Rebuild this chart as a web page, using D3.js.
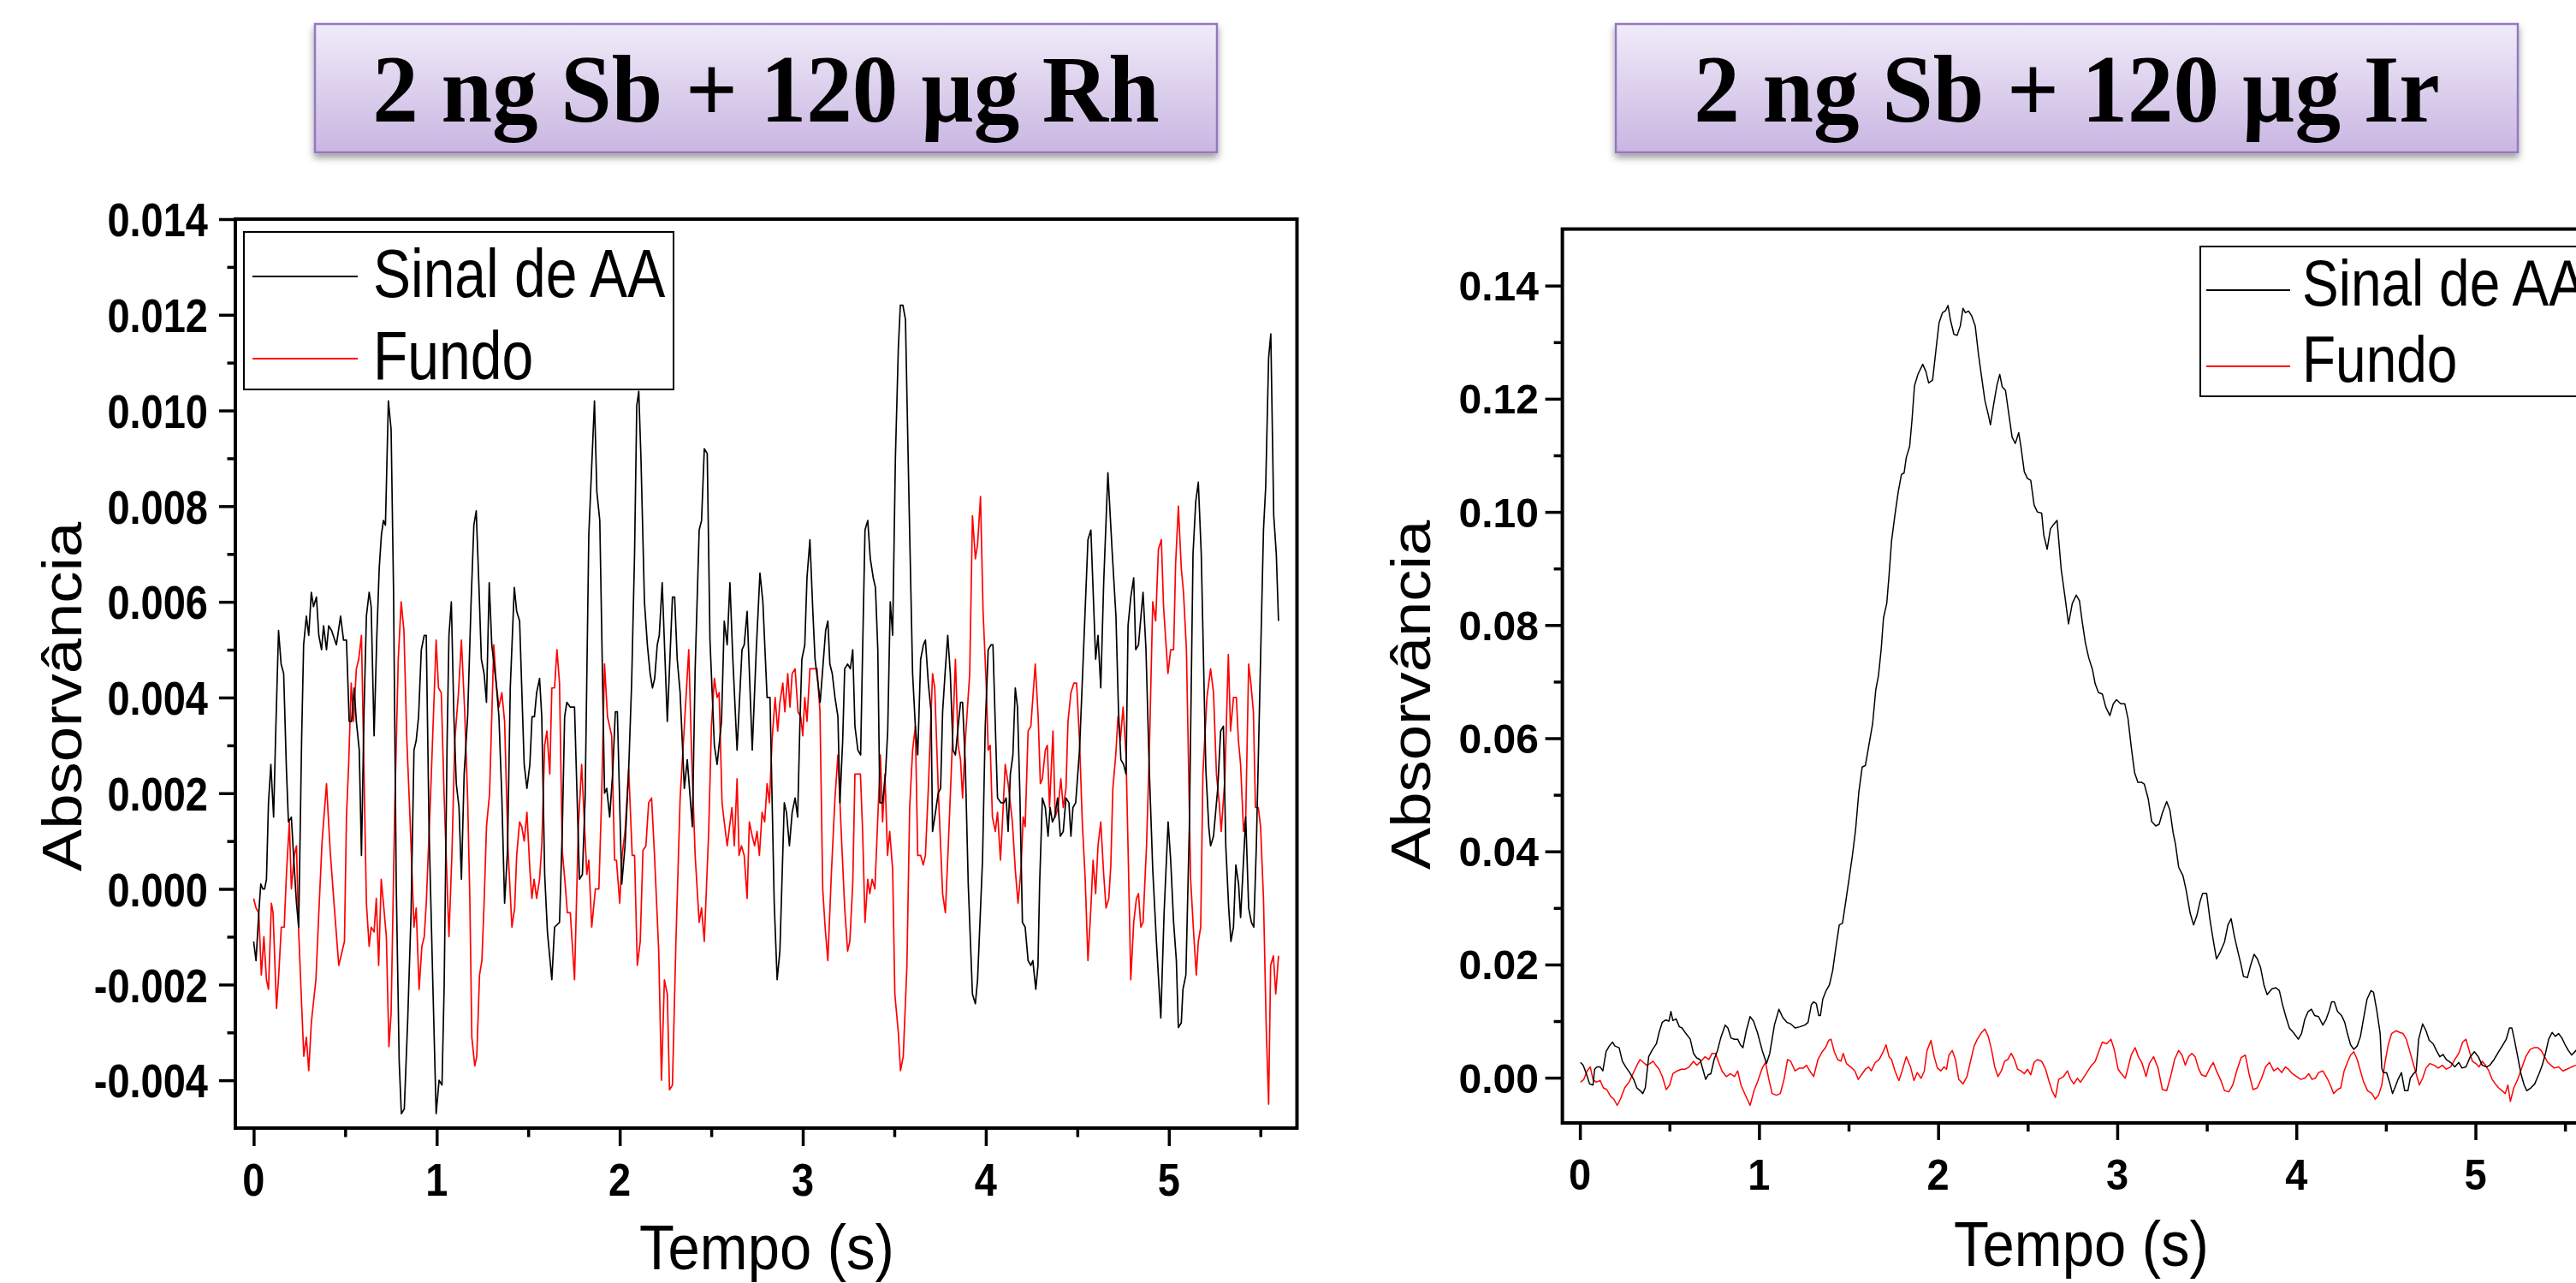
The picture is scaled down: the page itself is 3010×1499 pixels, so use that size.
<!DOCTYPE html>
<html>
<head>
<meta charset="utf-8">
<script src="https://cdn.jsdelivr.net/npm/d3@7"></script>
<style>
  html, body { margin: 0; padding: 0; background: #fff; }
  svg { display: block; }
</style>
</head>
<body>
<div id="charts"></div>
<script>
// ---- data ----
var titles = ["2 ng Sb + 120 µg Rh", "2 ng Sb + 120 µg Ir"];
var seriesNames = ["Sinal de AA", "Fundo"];
var xTicks = [0, 1, 2, 3, 4, 5];
var xMinor = [0.5, 1.5, 2.5, 3.5, 4.5, 5.5];
var rhYTicks = [-0.004, -0.002, 0, 0.002, 0.004, 0.006, 0.008, 0.010, 0.012, 0.014];
var rhYMinor = [-0.003, -0.001, 0.001, 0.003, 0.005, 0.007, 0.009, 0.011, 0.013];
var irYTicks = [0, 0.02, 0.04, 0.06, 0.08, 0.10, 0.12, 0.14];
var irYMinor = [0.01, 0.03, 0.05, 0.07, 0.09, 0.11, 0.13];

var rhSinal = [[0.000,-0.0011],[0.013,-0.0015],[0.028,-0.0005],[0.039,0.0001],[0.050,0.0000],[0.060,0.0000],[0.070,0.0002],[0.081,0.0018],[0.094,0.0026],[0.109,0.0015],[0.120,0.0032],[0.136,0.0054],[0.150,0.0047],[0.164,0.0045],[0.179,0.0025],[0.190,0.0014],[0.206,0.0015],[0.218,0.0007],[0.234,-0.0003],[0.246,-0.0008],[0.262,0.0031],[0.273,0.0051],[0.288,0.0057],[0.301,0.0053],[0.315,0.0062],[0.327,0.0059],[0.343,0.0061],[0.356,0.0053],[0.371,0.0050],[0.382,0.0055],[0.398,0.0050],[0.410,0.0055],[0.426,0.0054],[0.452,0.0051],[0.475,0.0057],[0.491,0.0052],[0.507,0.0052],[0.522,0.0035],[0.535,0.0035],[0.549,0.0042],[0.561,0.0035],[0.577,0.0029],[0.589,0.0007],[0.603,0.0037],[0.616,0.0057],[0.631,0.0062],[0.642,0.0059],[0.658,0.0032],[0.673,0.0053],[0.686,0.0067],[0.698,0.0074],[0.709,0.0077],[0.720,0.0076],[0.736,0.0102],[0.751,0.0096],[0.764,0.0063],[0.779,0.0001],[0.795,-0.0036],[0.807,-0.0047],[0.823,-0.0046],[0.842,-0.0027],[0.860,-0.0005],[0.876,0.0029],[0.888,0.0031],[0.901,0.0036],[0.916,0.0050],[0.932,0.0053],[0.943,0.0053],[0.958,0.0013],[0.979,-0.0020],[0.997,-0.0047],[1.013,-0.0040],[1.029,-0.0041],[1.041,-0.0020],[1.057,0.0031],[1.067,0.0053],[1.080,0.0060],[1.094,0.0036],[1.107,0.0022],[1.122,0.0017],[1.135,0.0002],[1.150,0.0024],[1.169,0.0036],[1.188,0.0060],[1.203,0.0076],[1.216,0.0079],[1.231,0.0063],[1.244,0.0048],[1.259,0.0045],[1.272,0.0039],[1.287,0.0064],[1.301,0.0051],[1.325,0.0043],[1.340,0.0036],[1.356,0.0019],[1.371,-0.0003],[1.387,0.0008],[1.402,0.0042],[1.424,0.0063],[1.437,0.0058],[1.453,0.0056],[1.478,0.0026],[1.493,0.0021],[1.509,0.0026],[1.521,0.0036],[1.534,0.0036],[1.546,0.0041],[1.562,0.0044],[1.574,0.0036],[1.590,0.0003],[1.605,-0.0009],[1.629,-0.0019],[1.644,-0.0008],[1.671,-0.0007],[1.686,0.0012],[1.699,0.0036],[1.711,0.0039],[1.730,0.0038],[1.753,0.0038],[1.780,0.0002],[1.796,0.0003],[1.811,0.0019],[1.831,0.0074],[1.862,0.0102],[1.875,0.0083],[1.891,0.0077],[1.917,0.0020],[1.929,0.0021],[1.945,0.0015],[1.961,0.0024],[1.976,0.0037],[1.987,0.0037],[2.011,0.0001],[2.029,0.0009],[2.049,0.0025],[2.065,0.0043],[2.081,0.0070],[2.093,0.0101],[2.104,0.0104],[2.116,0.0090],[2.135,0.0060],[2.151,0.0051],[2.166,0.0045],[2.179,0.0042],[2.191,0.0044],[2.205,0.0051],[2.216,0.0053],[2.232,0.0064],[2.260,0.0035],[2.288,0.0061],[2.300,0.0061],[2.314,0.0048],[2.330,0.0041],[2.353,0.0021],[2.369,0.0027],[2.397,0.0013],[2.412,0.0046],[2.434,0.0075],[2.447,0.0077],[2.462,0.0092],[2.478,0.0091],[2.493,0.0052],[2.517,0.0030],[2.532,0.0026],[2.556,0.0035],[2.571,0.0056],[2.587,0.0051],[2.602,0.0064],[2.618,0.0048],[2.641,0.0029],[2.668,0.0050],[2.680,0.0051],[2.696,0.0058],[2.724,0.0029],[2.746,0.0050],[2.766,0.0066],[2.782,0.0060],[2.805,0.0040],[2.821,0.0040],[2.844,-0.0003],[2.860,-0.0019],[2.875,-0.0013],[2.899,0.0018],[2.911,0.0016],[2.927,0.0009],[2.942,0.0016],[2.958,0.0019],[2.972,0.0015],[2.984,0.0034],[2.995,0.0048],[3.011,0.0051],[3.023,0.0065],[3.039,0.0073],[3.055,0.0058],[3.067,0.0048],[3.083,0.0043],[3.095,0.0039],[3.109,0.0046],[3.125,0.0054],[3.137,0.0056],[3.148,0.0047],[3.161,0.0045],[3.176,0.0040],[3.192,0.0036],[3.203,0.0018],[3.218,0.0031],[3.229,0.0046],[3.245,0.0047],[3.260,0.0046],[3.273,0.0050],[3.285,0.0034],[3.301,0.0029],[3.316,0.0028],[3.327,0.0050],[3.340,0.0075],[3.355,0.0077],[3.369,0.0069],[3.385,0.0065],[3.397,0.0063],[3.410,0.0050],[3.421,0.0018],[3.436,0.0018],[3.452,0.0024],[3.464,0.0033],[3.478,0.0060],[3.491,0.0053],[3.506,0.0090],[3.522,0.0113],[3.533,0.0122],[3.547,0.0122],[3.561,0.0119],[3.581,0.0080],[3.600,0.0045],[3.615,0.0034],[3.628,0.0028],[3.644,0.0048],[3.659,0.0051],[3.670,0.0052],[3.686,0.0043],[3.701,0.0037],[3.709,0.0012],[3.725,0.0016],[3.740,0.0020],[3.753,0.0021],[3.764,0.0037],[3.779,0.0046],[3.792,0.0053],[3.806,0.0045],[3.821,0.0029],[3.834,0.0028],[3.849,0.0034],[3.862,0.0039],[3.873,0.0039],[3.888,0.0026],[3.904,0.0001],[3.927,-0.0022],[3.943,-0.0024],[3.955,-0.0019],[3.982,0.0006],[3.997,0.0034],[4.013,0.0050],[4.028,0.0051],[4.039,0.0051],[4.052,0.0034],[4.064,0.0019],[4.083,0.0018],[4.099,0.0018],[4.111,0.0019],[4.122,0.0012],[4.134,0.0024],[4.148,0.0028],[4.161,0.0042],[4.173,0.0038],[4.186,0.0020],[4.200,-0.0007],[4.215,-0.0008],[4.231,-0.0015],[4.246,-0.0016],[4.257,-0.0015],[4.273,-0.0021],[4.285,-0.0016],[4.294,0.0001],[4.309,0.0019],[4.325,0.0017],[4.340,0.0011],[4.351,0.0017],[4.364,0.0014],[4.376,0.0015],[4.392,0.0019],[4.407,0.0011],[4.423,0.0012],[4.438,0.0019],[4.454,0.0018],[4.465,0.0011],[4.476,0.0017],[4.491,0.0018],[4.512,0.0029],[4.532,0.0048],[4.558,0.0073],[4.574,0.0075],[4.600,0.0048],[4.613,0.0053],[4.628,0.0042],[4.644,0.0064],[4.667,0.0087],[4.691,0.0070],[4.711,0.0057],[4.725,0.0037],[4.738,0.0027],[4.753,0.0026],[4.766,0.0024],[4.777,0.0055],[4.792,0.0061],[4.808,0.0065],[4.819,0.0050],[4.834,0.0051],[4.859,0.0062],[4.875,0.0050],[4.893,0.0025],[4.912,0.0004],[4.932,-0.0011],[4.956,-0.0027],[4.974,-0.0005],[4.996,0.0014],[5.010,0.0006],[5.026,-0.0007],[5.041,-0.0015],[5.052,-0.0029],[5.068,-0.0028],[5.077,-0.0021],[5.093,-0.0018],[5.112,0.0013],[5.132,0.0070],[5.147,0.0081],[5.161,0.0085],[5.177,0.0070],[5.202,0.0025],[5.218,0.0013],[5.228,0.0009],[5.244,0.0011],[5.267,0.0021],[5.283,0.0033],[5.298,0.0034],[5.311,0.0009],[5.327,-0.0004],[5.339,-0.0011],[5.353,-0.0008],[5.366,0.0005],[5.381,0.0001],[5.392,-0.0006],[5.408,0.0006],[5.420,0.0015],[5.436,-0.0004],[5.451,-0.0007],[5.464,-0.0008],[5.478,0.0009],[5.498,0.0043],[5.517,0.0075],[5.529,0.0084],[5.545,0.0111],[5.557,0.0116],[5.573,0.0078],[5.587,0.0070],[5.599,0.0056]];

var rhFundo = [[0.000,-0.0002],[0.013,-0.0004],[0.028,-0.0005],[0.042,-0.0018],[0.056,-0.0010],[0.070,-0.0019],[0.081,-0.0021],[0.097,-0.0003],[0.106,-0.0005],[0.125,-0.0025],[0.137,-0.0018],[0.151,-0.0008],[0.167,-0.0008],[0.179,0.0003],[0.195,0.0014],[0.206,0.0000],[0.222,0.0007],[0.234,0.0009],[0.246,-0.0009],[0.262,-0.0024],[0.274,-0.0035],[0.288,-0.0031],[0.301,-0.0038],[0.315,-0.0028],[0.340,-0.0019],[0.356,-0.0005],[0.374,0.0010],[0.398,0.0022],[0.418,0.0008],[0.441,-0.0004],[0.465,-0.0016],[0.496,-0.0011],[0.507,0.0015],[0.519,0.0026],[0.533,0.0043],[0.546,0.0035],[0.561,0.0046],[0.574,0.0048],[0.589,0.0053],[0.603,0.0024],[0.616,-0.0003],[0.631,-0.0012],[0.642,-0.0008],[0.658,-0.0009],[0.670,-0.0002],[0.683,-0.0016],[0.697,0.0002],[0.709,-0.0003],[0.725,-0.0010],[0.739,-0.0033],[0.751,-0.0026],[0.771,0.0017],[0.790,0.0048],[0.806,0.0060],[0.821,0.0054],[0.837,0.0031],[0.854,0.0015],[0.876,-0.0008],[0.888,-0.0004],[0.904,-0.0021],[0.919,-0.0012],[0.932,-0.0010],[0.943,-0.0003],[0.966,0.0019],[0.982,0.0036],[0.997,0.0052],[1.010,0.0042],[1.025,0.0041],[1.041,0.0019],[1.067,-0.0010],[1.083,0.0007],[1.099,0.0031],[1.119,0.0041],[1.135,0.0052],[1.153,0.0037],[1.169,0.0019],[1.181,-0.0002],[1.192,-0.0031],[1.208,-0.0037],[1.219,-0.0035],[1.234,-0.0018],[1.247,-0.0015],[1.259,-0.0003],[1.272,0.0013],[1.289,0.0020],[1.312,0.0051],[1.325,0.0043],[1.340,0.0038],[1.356,0.0041],[1.371,0.0035],[1.390,0.0008],[1.411,-0.0008],[1.426,-0.0004],[1.437,0.0007],[1.453,0.0014],[1.465,0.0013],[1.478,0.0010],[1.493,0.0016],[1.509,0.0004],[1.520,-0.0002],[1.532,0.0002],[1.546,-0.0002],[1.562,0.0002],[1.574,0.0009],[1.590,0.0030],[1.602,0.0033],[1.618,0.0024],[1.629,0.0042],[1.644,0.0042],[1.657,0.0050],[1.671,0.0043],[1.686,0.0008],[1.702,0.0001],[1.714,-0.0005],[1.730,-0.0005],[1.753,-0.0019],[1.774,0.0013],[1.792,0.0026],[1.808,0.0013],[1.820,0.0003],[1.831,0.0006],[1.847,-0.0008],[1.867,0.0000],[1.886,0.0000],[1.901,0.0019],[1.917,0.0047],[1.933,0.0036],[1.956,0.0032],[1.972,0.0006],[1.982,0.0006],[2.000,-0.0003],[2.013,0.0007],[2.029,0.0012],[2.049,0.0025],[2.068,0.0007],[2.081,0.0007],[2.096,-0.0016],[2.112,-0.0011],[2.127,0.0008],[2.143,0.0009],[2.158,0.0018],[2.174,0.0019],[2.190,0.0007],[2.213,-0.0013],[2.228,-0.0040],[2.244,-0.0019],[2.260,-0.0022],[2.272,-0.0042],[2.288,-0.0041],[2.307,-0.0011],[2.330,0.0019],[2.353,0.0034],[2.377,0.0050],[2.392,0.0029],[2.412,0.0007],[2.434,-0.0007],[2.447,-0.0004],[2.462,-0.0011],[2.486,0.0012],[2.501,0.0034],[2.517,0.0044],[2.532,0.0040],[2.543,0.0041],[2.559,0.0018],[2.571,0.0014],[2.587,0.0009],[2.613,0.0017],[2.626,0.0009],[2.641,0.0023],[2.652,0.0007],[2.665,0.0009],[2.680,0.0007],[2.696,-0.0002],[2.708,0.0014],[2.724,0.0011],[2.737,0.0009],[2.750,0.0012],[2.763,0.0007],[2.778,0.0016],[2.792,0.0014],[2.805,0.0022],[2.818,0.0018],[2.832,0.0031],[2.849,0.0040],[2.863,0.0033],[2.875,0.0039],[2.891,0.0043],[2.902,0.0037],[2.918,0.0045],[2.930,0.0038],[2.942,0.0045],[2.958,0.0046],[2.974,0.0037],[2.989,0.0036],[3.000,0.0032],[3.011,0.0040],[3.023,0.0035],[3.039,0.0046],[3.055,0.0046],[3.078,0.0046],[3.094,0.0037],[3.109,0.0000],[3.122,-0.0008],[3.137,-0.0015],[3.156,0.0003],[3.176,0.0019],[3.192,0.0028],[3.210,0.0012],[3.229,-0.0004],[3.245,-0.0013],[3.257,-0.0011],[3.273,0.0001],[3.285,0.0024],[3.315,0.0024],[3.327,0.0012],[3.340,-0.0007],[3.355,0.0002],[3.366,-0.0001],[3.379,0.0002],[3.394,0.0000],[3.410,0.0015],[3.424,0.0028],[3.436,0.0014],[3.449,0.0024],[3.463,0.0007],[3.475,0.0012],[3.491,0.0004],[3.503,-0.0022],[3.522,-0.0030],[3.534,-0.0038],[3.549,-0.0035],[3.569,-0.0016],[3.584,0.0017],[3.600,0.0029],[3.615,0.0034],[3.628,0.0007],[3.644,0.0007],[3.658,0.0005],[3.670,0.0007],[3.686,0.0021],[3.709,0.0045],[3.721,0.0042],[3.740,0.0021],[3.764,-0.0001],[3.779,-0.0005],[3.795,0.0009],[3.818,0.0031],[3.834,0.0048],[3.849,0.0030],[3.862,0.0027],[3.873,0.0019],[3.888,0.0031],[3.912,0.0045],[3.927,0.0078],[3.943,0.0069],[3.955,0.0072],[3.971,0.0082],[3.985,0.0058],[4.002,0.0043],[4.013,0.0029],[4.024,0.0030],[4.036,0.0015],[4.052,0.0012],[4.064,0.0016],[4.080,0.0006],[4.091,0.0014],[4.106,0.0026],[4.122,0.0022],[4.145,0.0014],[4.161,0.0004],[4.176,-0.0003],[4.192,0.0004],[4.204,0.0015],[4.215,0.0013],[4.231,0.0033],[4.246,0.0034],[4.270,0.0047],[4.286,0.0036],[4.298,0.0022],[4.309,0.0023],[4.325,0.0029],[4.336,0.0030],[4.348,0.0017],[4.367,0.0033],[4.379,0.0015],[4.395,0.0017],[4.410,0.0023],[4.423,0.0017],[4.438,0.0021],[4.449,0.0035],[4.465,0.0041],[4.481,0.0043],[4.496,0.0043],[4.512,0.0031],[4.527,0.0014],[4.543,0.0002],[4.558,-0.0015],[4.574,-0.0004],[4.586,0.0006],[4.600,-0.0001],[4.613,0.0009],[4.628,0.0014],[4.644,0.0003],[4.657,-0.0004],[4.672,-0.0002],[4.683,0.0005],[4.694,0.0021],[4.710,0.0028],[4.722,0.0036],[4.735,0.0031],[4.750,0.0038],[4.766,0.0028],[4.778,0.0007],[4.792,-0.0019],[4.808,-0.0007],[4.823,-0.0002],[4.834,-0.0001],[4.847,-0.0008],[4.859,-0.0007],[4.878,0.0009],[4.893,0.0028],[4.912,0.0060],[4.928,0.0056],[4.943,0.0071],[4.959,0.0073],[4.971,0.0059],[4.995,0.0045],[5.010,0.0050],[5.026,0.0050],[5.037,0.0068],[5.052,0.0080],[5.068,0.0067],[5.080,0.0062],[5.096,0.0050],[5.119,0.0002],[5.135,-0.0009],[5.150,-0.0018],[5.161,-0.0011],[5.174,-0.0008],[5.186,0.0024],[5.208,0.0040],[5.228,0.0046],[5.244,0.0041],[5.260,0.0024],[5.275,0.0018],[5.286,0.0012],[5.306,0.0023],[5.325,0.0049],[5.337,0.0033],[5.353,0.0040],[5.369,0.0040],[5.380,0.0031],[5.392,0.0026],[5.408,0.0012],[5.420,0.0015],[5.436,0.0047],[5.448,0.0043],[5.462,0.0037],[5.473,0.0017],[5.489,0.0017],[5.501,0.0013],[5.517,-0.0002],[5.532,-0.0029],[5.545,-0.0045],[5.556,-0.0016],[5.571,-0.0014],[5.584,-0.0022],[5.599,-0.0014]];

var irSinal = [[0.003,0.0027],[0.018,0.0022],[0.036,0.0007],[0.054,-0.0011],[0.073,-0.0013],[0.082,0.0015],[0.095,0.0019],[0.113,0.0019],[0.128,0.0012],[0.146,0.0046],[0.164,0.0056],[0.182,0.0063],[0.195,0.0056],[0.219,0.0053],[0.237,0.0029],[0.256,0.0019],[0.278,0.0009],[0.300,-0.0003],[0.318,-0.0018],[0.336,-0.0023],[0.351,-0.0028],[0.365,-0.0018],[0.384,0.0037],[0.402,0.0048],[0.427,0.0060],[0.442,0.0080],[0.460,0.0098],[0.479,0.0102],[0.497,0.0100],[0.508,0.0117],[0.519,0.0101],[0.537,0.0104],[0.555,0.0090],[0.570,0.0088],[0.592,0.0078],[0.616,0.0068],[0.634,0.0043],[0.652,0.0035],[0.671,0.0032],[0.689,0.0012],[0.702,-0.0003],[0.716,0.0005],[0.731,0.0007],[0.749,0.0032],[0.768,0.0048],[0.786,0.0070],[0.811,0.0093],[0.826,0.0088],[0.844,0.0070],[0.863,0.0068],[0.881,0.0068],[0.896,0.0058],[0.910,0.0053],[0.929,0.0083],[0.950,0.0108],[0.969,0.0100],[0.991,0.0080],[1.018,0.0048],[1.042,0.0025],[1.060,0.0043],[1.086,0.0093],[1.111,0.0121],[1.133,0.0106],[1.155,0.0098],[1.177,0.0095],[1.201,0.0088],[1.228,0.0090],[1.256,0.0093],[1.274,0.0098],[1.292,0.0129],[1.305,0.0134],[1.320,0.0131],[1.333,0.0110],[1.343,0.0110],[1.356,0.0139],[1.375,0.0154],[1.393,0.0164],[1.411,0.0189],[1.429,0.0230],[1.448,0.0270],[1.466,0.0273],[1.484,0.0311],[1.503,0.0352],[1.521,0.0392],[1.539,0.0438],[1.557,0.0504],[1.576,0.0549],[1.594,0.0552],[1.612,0.0585],[1.634,0.0625],[1.652,0.0686],[1.667,0.0711],[1.682,0.0757],[1.695,0.0813],[1.713,0.0838],[1.726,0.0888],[1.740,0.0949],[1.759,0.0995],[1.777,0.1035],[1.795,0.1066],[1.810,0.1069],[1.822,0.1096],[1.841,0.1116],[1.854,0.1162],[1.868,0.1223],[1.887,0.1243],[1.914,0.1261],[1.932,0.1248],[1.947,0.1228],[1.969,0.1233],[1.987,0.1284],[2.005,0.1334],[2.024,0.1352],[2.042,0.1356],[2.055,0.1365],[2.069,0.1339],[2.088,0.1314],[2.106,0.1312],[2.124,0.1329],[2.139,0.1360],[2.152,0.1352],[2.170,0.1355],[2.188,0.1346],[2.207,0.1329],[2.225,0.1279],[2.243,0.1238],[2.261,0.1197],[2.280,0.1172],[2.292,0.1154],[2.311,0.1192],[2.329,0.1225],[2.344,0.1243],[2.358,0.1221],[2.376,0.1215],[2.395,0.1172],[2.413,0.1132],[2.431,0.1121],[2.450,0.1140],[2.462,0.1116],[2.481,0.1071],[2.499,0.1059],[2.517,0.1056],[2.536,0.1012],[2.554,0.1000],[2.578,0.0998],[2.590,0.0959],[2.609,0.0934],[2.627,0.0970],[2.645,0.0978],[2.664,0.0985],[2.687,0.0899],[2.709,0.0848],[2.728,0.0802],[2.749,0.0838],[2.771,0.0853],[2.789,0.0843],[2.804,0.0807],[2.822,0.0769],[2.841,0.0742],[2.862,0.0721],[2.877,0.0696],[2.895,0.0681],[2.917,0.0678],[2.936,0.0655],[2.959,0.0640],[2.978,0.0661],[2.996,0.0668],[3.020,0.0661],[3.042,0.0661],[3.060,0.0635],[3.078,0.0585],[3.097,0.0539],[3.115,0.0522],[3.137,0.0522],[3.151,0.0519],[3.173,0.0493],[3.192,0.0453],[3.215,0.0445],[3.234,0.0448],[3.252,0.0468],[3.276,0.0488],[3.294,0.0473],[3.312,0.0433],[3.325,0.0413],[3.343,0.0372],[3.367,0.0357],[3.385,0.0331],[3.407,0.0291],[3.426,0.0270],[3.444,0.0286],[3.462,0.0311],[3.477,0.0326],[3.499,0.0326],[3.517,0.0281],[3.535,0.0245],[3.554,0.0210],[3.572,0.0220],[3.599,0.0240],[3.618,0.0270],[3.636,0.0281],[3.654,0.0250],[3.672,0.0225],[3.691,0.0200],[3.705,0.0179],[3.727,0.0177],[3.746,0.0200],[3.764,0.0218],[3.782,0.0210],[3.800,0.0195],[3.819,0.0164],[3.837,0.0147],[3.864,0.0157],[3.886,0.0159],[3.905,0.0154],[3.923,0.0129],[3.943,0.0106],[3.961,0.0088],[3.983,0.0080],[4.011,0.0068],[4.029,0.0078],[4.047,0.0103],[4.066,0.0117],[4.084,0.0121],[4.102,0.0110],[4.124,0.0108],[4.148,0.0093],[4.166,0.0103],[4.184,0.0119],[4.197,0.0134],[4.212,0.0134],[4.230,0.0117],[4.252,0.0110],[4.270,0.0098],[4.285,0.0078],[4.303,0.0058],[4.321,0.0050],[4.340,0.0056],[4.358,0.0073],[4.376,0.0106],[4.395,0.0139],[4.417,0.0154],[4.431,0.0151],[4.449,0.0119],[4.468,0.0078],[4.477,0.0017],[4.486,0.0009],[4.504,0.0009],[4.523,-0.0011],[4.537,-0.0028],[4.550,-0.0018],[4.568,-0.0003],[4.587,0.0009],[4.605,-0.0023],[4.623,-0.0023],[4.636,-0.0001],[4.654,0.0007],[4.669,0.0012],[4.683,0.0068],[4.705,0.0095],[4.724,0.0083],[4.742,0.0066],[4.764,0.0060],[4.782,0.0048],[4.801,0.0037],[4.819,0.0041],[4.837,0.0032],[4.861,0.0027],[4.885,0.0019],[4.907,0.0027],[4.925,0.0017],[4.947,0.0019],[4.971,0.0037],[4.994,0.0046],[5.016,0.0037],[5.038,0.0022],[5.062,0.0019],[5.080,0.0022],[5.104,0.0032],[5.130,0.0046],[5.153,0.0058],[5.172,0.0068],[5.190,0.0088],[5.203,0.0088],[5.217,0.0068],[5.236,0.0037],[5.254,0.0007],[5.272,-0.0013],[5.287,-0.0023],[5.309,-0.0018],[5.331,-0.0011],[5.355,0.0007],[5.373,0.0022],[5.391,0.0043],[5.409,0.0068],[5.428,0.0080],[5.446,0.0073],[5.464,0.0078],[5.483,0.0070],[5.501,0.0058],[5.519,0.0048],[5.537,0.0040],[5.561,0.0048],[5.600,0.0035]];

var irFundo = [[0.003,-0.0008],[0.022,-0.0003],[0.040,0.0012],[0.058,0.0019],[0.073,-0.0003],[0.091,-0.0008],[0.113,-0.0005],[0.131,-0.0018],[0.150,-0.0021],[0.171,-0.0033],[0.190,-0.0038],[0.208,-0.0049],[0.226,-0.0038],[0.250,-0.0018],[0.274,-0.0008],[0.296,0.0007],[0.318,0.0022],[0.336,0.0032],[0.354,0.0027],[0.373,0.0022],[0.391,0.0025],[0.409,0.0029],[0.424,0.0022],[0.442,0.0015],[0.460,0.0002],[0.482,-0.0021],[0.501,-0.0013],[0.519,0.0007],[0.543,0.0012],[0.566,0.0015],[0.588,0.0015],[0.610,0.0019],[0.634,0.0029],[0.652,0.0022],[0.676,0.0029],[0.698,0.0037],[0.720,0.0032],[0.738,0.0043],[0.757,0.0043],[0.775,0.0027],[0.793,0.0012],[0.817,0.0002],[0.841,0.0007],[0.863,0.0002],[0.881,0.0012],[0.899,-0.0013],[0.927,-0.0033],[0.950,-0.0049],[0.972,-0.0023],[0.994,-0.0005],[1.018,0.0017],[1.036,0.0027],[1.055,-0.0003],[1.073,-0.0028],[1.097,-0.0031],[1.119,-0.0028],[1.141,-0.0001],[1.159,0.0032],[1.177,0.0029],[1.201,0.0012],[1.225,0.0017],[1.247,0.0017],[1.265,0.0022],[1.283,0.0012],[1.305,0.0002],[1.329,0.0032],[1.353,0.0046],[1.371,0.0053],[1.389,0.0066],[1.402,0.0068],[1.420,0.0046],[1.439,0.0032],[1.457,0.0029],[1.470,0.0043],[1.488,0.0025],[1.512,0.0019],[1.535,0.0012],[1.554,-0.0003],[1.576,0.0007],[1.594,0.0015],[1.612,0.0019],[1.627,0.0012],[1.649,0.0027],[1.671,0.0032],[1.689,0.0043],[1.709,0.0058],[1.726,0.0037],[1.740,0.0032],[1.759,0.0012],[1.781,-0.0005],[1.799,0.0012],[1.822,0.0037],[1.846,0.0019],[1.865,-0.0005],[1.883,0.0009],[1.905,-0.0001],[1.923,0.0012],[1.938,0.0048],[1.960,0.0066],[1.978,0.0037],[1.996,0.0017],[2.015,0.0012],[2.033,0.0019],[2.047,0.0015],[2.060,0.0040],[2.079,0.0048],[2.097,0.0032],[2.115,-0.0003],[2.139,-0.0011],[2.161,0.0002],[2.183,0.0032],[2.201,0.0056],[2.219,0.0068],[2.238,0.0078],[2.261,0.0086],[2.280,0.0073],[2.298,0.0050],[2.316,0.0019],[2.334,0.0002],[2.353,0.0012],[2.371,0.0029],[2.389,0.0032],[2.408,0.0043],[2.426,0.0032],[2.444,0.0015],[2.462,0.0012],[2.481,0.0007],[2.499,0.0015],[2.517,0.0005],[2.536,0.0027],[2.554,0.0032],[2.578,0.0029],[2.600,0.0015],[2.618,-0.0005],[2.636,-0.0023],[2.655,-0.0035],[2.673,-0.0003],[2.700,0.0002],[2.722,0.0012],[2.740,-0.0003],[2.758,-0.0011],[2.777,-0.0001],[2.795,-0.0008],[2.822,0.0005],[2.850,0.0019],[2.877,0.0029],[2.899,0.0048],[2.917,0.0063],[2.941,0.0060],[2.965,0.0068],[2.983,0.0050],[3.005,0.0015],[3.023,0.0007],[3.045,-0.0001],[3.060,0.0017],[3.078,0.0040],[3.100,0.0053],[3.118,0.0037],[3.137,0.0027],[3.161,0.0002],[3.179,0.0025],[3.203,0.0037],[3.228,0.0017],[3.252,-0.0021],[3.276,-0.0023],[3.298,0.0002],[3.320,0.0032],[3.343,0.0048],[3.362,0.0040],[3.380,0.0022],[3.398,0.0037],[3.416,0.0043],[3.435,0.0037],[3.453,0.0017],[3.471,0.0005],[3.495,0.0002],[3.517,0.0017],[3.536,0.0027],[3.554,0.0012],[3.576,-0.0003],[3.599,-0.0023],[3.623,-0.0025],[3.645,-0.0013],[3.667,0.0012],[3.691,0.0035],[3.715,0.0040],[3.736,0.0007],[3.758,-0.0021],[3.782,-0.0018],[3.806,-0.0001],[3.828,0.0019],[3.850,0.0027],[3.874,0.0012],[3.897,0.0017],[3.919,0.0009],[3.938,0.0019],[3.956,0.0015],[3.978,0.0007],[4.002,0.0002],[4.025,-0.0003],[4.047,-0.0001],[4.069,0.0007],[4.088,-0.0003],[4.106,-0.0001],[4.124,0.0009],[4.148,0.0012],[4.172,-0.0001],[4.190,-0.0013],[4.208,-0.0028],[4.230,-0.0021],[4.248,-0.0018],[4.267,0.0012],[4.285,0.0027],[4.303,0.0040],[4.321,0.0046],[4.340,0.0032],[4.358,0.0012],[4.376,-0.0008],[4.398,-0.0023],[4.422,-0.0028],[4.440,-0.0038],[4.459,-0.0031],[4.477,-0.0013],[4.495,0.0027],[4.513,0.0058],[4.532,0.0078],[4.556,0.0083],[4.578,0.0080],[4.596,0.0078],[4.614,0.0068],[4.632,0.0048],[4.651,0.0027],[4.669,0.0007],[4.687,-0.0013],[4.705,-0.0001],[4.724,0.0017],[4.746,0.0025],[4.770,0.0022],[4.793,0.0017],[4.815,0.0022],[4.837,0.0015],[4.861,0.0019],[4.885,0.0032],[4.907,0.0043],[4.929,0.0063],[4.947,0.0068],[4.965,0.0048],[4.983,0.0029],[5.002,0.0025],[5.020,0.0019],[5.038,0.0029],[5.056,0.0022],[5.075,0.0012],[5.093,-0.0003],[5.111,-0.0011],[5.130,-0.0018],[5.148,-0.0023],[5.166,-0.0028],[5.181,-0.0013],[5.195,-0.0042],[5.214,-0.0018],[5.236,-0.0003],[5.258,0.0017],[5.281,0.0037],[5.305,0.0050],[5.327,0.0053],[5.349,0.0053],[5.367,0.0048],[5.386,0.0037],[5.404,0.0027],[5.422,0.0022],[5.440,0.0017],[5.464,0.0019],[5.488,0.0012],[5.510,0.0015],[5.537,0.0019],[5.561,0.0022]];

// ---- drawing ----
var sans = "'Liberation Sans', Arial, Helvetica, sans-serif";
var serif = "'Liberation Serif', 'Times New Roman', serif";

var svg = d3.select("#charts").append("svg")
    .attr("width", 3010)
    .attr("height", 1499);

svg.append("rect").attr("width", 3010).attr("height", 1499).attr("fill", "#fff");

var defs = svg.append("defs");
var grad = defs.append("linearGradient").attr("id", "boxGrad")
    .attr("x1", 0).attr("y1", 0).attr("x2", 0).attr("y2", 1);
grad.append("stop").attr("offset", "0%").attr("stop-color", "#f0ebf8");
grad.append("stop").attr("offset", "100%").attr("stop-color", "#c9b6e2");

var shadow = defs.append("filter").attr("id", "boxShadow")
    .attr("x", "-5%").attr("y", "-10%").attr("width", "110%").attr("height", "130%");
shadow.append("feDropShadow").attr("dx", 0).attr("dy", 5).attr("stdDeviation", 4)
    .attr("flood-color", "#000").attr("flood-opacity", 0.4);

// text that is stretched vertically, like the pasted picture
function stretchedText(g, str, x, y, size, k, opts)
{
    opts = opts || {};
    var t = "translate(" + x + "," + y + ") scale(1," + k + ")" + (opts.rotate ? " rotate(-90)" : "");
    return g.append("text")
        .attr("transform", t)
        .attr("text-anchor", opts.anchor || "start")
        .style("font-family", opts.family || sans)
        .style("font-weight", opts.bold ? "bold" : "normal")
        .style("font-size", size + "px")
        .attr("fill", "#000")
        .text(str);
}

function drawPanel(p)
{
    var g = svg.append("g");

    // title box
    g.append("rect")
        .attr("x", p.box[0]).attr("y", p.box[1])
        .attr("width", p.box[2]).attr("height", p.box[3])
        .attr("fill", "url(#boxGrad)")
        .attr("stroke", "#9478c0")
        .attr("stroke-width", 2.5)
        .attr("filter", "url(#boxShadow)");
    stretchedText(g, p.title, p.box[0] + p.box[2] / 2, 142, 107, 1.05,
        {anchor: "middle", family: serif, bold: true});

    var x = d3.scaleLinear().domain(p.xDomain).range([p.left, p.right]);
    var y = d3.scaleLinear().domain(p.yDomain).range([p.bottom, p.top]);

    var clipId = "clip" + p.id;
    defs.append("clipPath").attr("id", clipId).append("rect")
        .attr("x", p.left).attr("y", p.top)
        .attr("width", p.right - p.left).attr("height", p.bottom - p.top);

    // axes ticks (outward), labels drawn separately
    function tickAxis(axis, transform)
    {
        var a = g.append("g").attr("transform", transform).call(axis);
        a.select(".domain").remove();
        a.selectAll(".tick line").attr("stroke", "#000").attr("stroke-width", 3.5);
    }
    tickAxis(d3.axisBottom(x).tickValues(xTicks).tickSize(p.xTickLen).tickFormat(""),
        "translate(0," + p.bottom + ")");
    tickAxis(d3.axisBottom(x).tickValues(xMinor).tickSize(p.xTickLen / 2).tickFormat(""),
        "translate(0," + p.bottom + ")");
    tickAxis(d3.axisLeft(y).tickValues(p.yTicks).tickSize(p.yTickLen).tickFormat(""),
        "translate(" + p.left + ",0)");
    tickAxis(d3.axisLeft(y).tickValues(p.yMinor).tickSize(p.yTickLen / 2).tickFormat(""),
        "translate(" + p.left + ",0)");

    xTicks.forEach(function(v) {
        stretchedText(g, String(v), x(v), p.xLabelY, p.xTickFont, p.xTickK, {anchor: "middle", bold: true});
    });
    p.yTicks.forEach(function(v) {
        stretchedText(g, v.toFixed(p.digits), p.yLabelRight, y(v) + 0.358 * p.yTickFont * p.yTickK,
            p.yTickFont, p.yTickK, {anchor: "end", bold: true});
    });

    // series
    var line = d3.line()
        .x(function(d) { return x(d[0]); })
        .y(function(d) { return y(d[1]); });

    var lines = g.append("g").attr("clip-path", "url(#" + clipId + ")");
    lines.append("path").datum(p.fundo)
        .attr("fill", "none").attr("stroke", "#ff0000")
        .attr("stroke-width", p.lineW).attr("stroke-linejoin", "round")
        .attr("d", line);
    lines.append("path").datum(p.sinal)
        .attr("fill", "none").attr("stroke", "#000")
        .attr("stroke-width", p.lineW).attr("stroke-linejoin", "round")
        .attr("d", line);

    // frame
    g.append("rect")
        .attr("x", p.left).attr("y", p.top)
        .attr("width", p.right - p.left).attr("height", p.bottom - p.top)
        .attr("fill", "none").attr("stroke", "#000").attr("stroke-width", 4);

    // legend
    var L = p.legend;
    g.append("rect")
        .attr("x", L.x).attr("y", L.y).attr("width", L.w).attr("height", L.h)
        .attr("fill", "#fff").attr("stroke", "#000").attr("stroke-width", 2);
    [["#000", L.row1], ["#ff0000", L.row2]].forEach(function(r, i) {
        g.append("line")
            .attr("x1", L.lineX1).attr("x2", L.lineX2)
            .attr("y1", r[1]).attr("y2", r[1])
            .attr("stroke", r[0]).attr("stroke-width", 2);
        stretchedText(g, seriesNames[i], L.textX, r[1] + L.baseOff, L.font, 1.2);
    });

    // axis titles
    stretchedText(g, "Tempo (s)", p.xTitle[0], p.xTitle[1], 67, 1.12, {anchor: "middle"});
    stretchedText(g, "Absorvância", p.yTitle[0], p.yTitle[1], 64, 1.16, {anchor: "middle", rotate: true});
}

drawPanel({
    id: "rh", title: titles[0], box: [368, 28, 1054, 150],
    left: 275, right: 1515.5, top: 256, bottom: 1318,
    xDomain: [-0.1, 5.7], yDomain: [-0.005, 0.014],
    yTicks: rhYTicks, yMinor: rhYMinor, digits: 3,
    xTickLen: 21, yTickLen: 19,
    xLabelY: 1397, xTickFont: 47, xTickK: 1.15,
    yLabelRight: 243, yTickFont: 47, yTickK: 1.2,
    sinal: rhSinal, fundo: rhFundo, lineW: 1.7,
    legend: {x: 285, y: 271, w: 502, h: 184, lineX1: 295, lineX2: 418, row1: 323, row2: 419, textX: 436, baseOff: 24, font: 66},
    xTitle: [896, 1483], yTitle: [95, 814]
});

drawPanel({
    id: "ir", title: titles[1], box: [1888, 28, 1054, 150],
    left: 1825.6, right: 3039, top: 267.6, bottom: 1312,
    xDomain: [-0.098, 5.7], yDomain: [-0.008, 0.150],
    yTicks: irYTicks, yMinor: irYMinor, digits: 2,
    xTickLen: 20, yTickLen: 20,
    xLabelY: 1390, xTickFont: 47, xTickK: 1.08,
    yLabelRight: 1798, yTickFont: 48, yTickK: 1.02,
    sinal: irSinal, fundo: irFundo, lineW: 1.5,
    legend: {x: 2571, y: 288, w: 520, h: 175, lineX1: 2578, lineX2: 2676, row1: 339, row2: 428, textX: 2690, baseOff: 18, font: 64},
    xTitle: [2432, 1479], yTitle: [1671, 812]
});
</script>
</body>
</html>
